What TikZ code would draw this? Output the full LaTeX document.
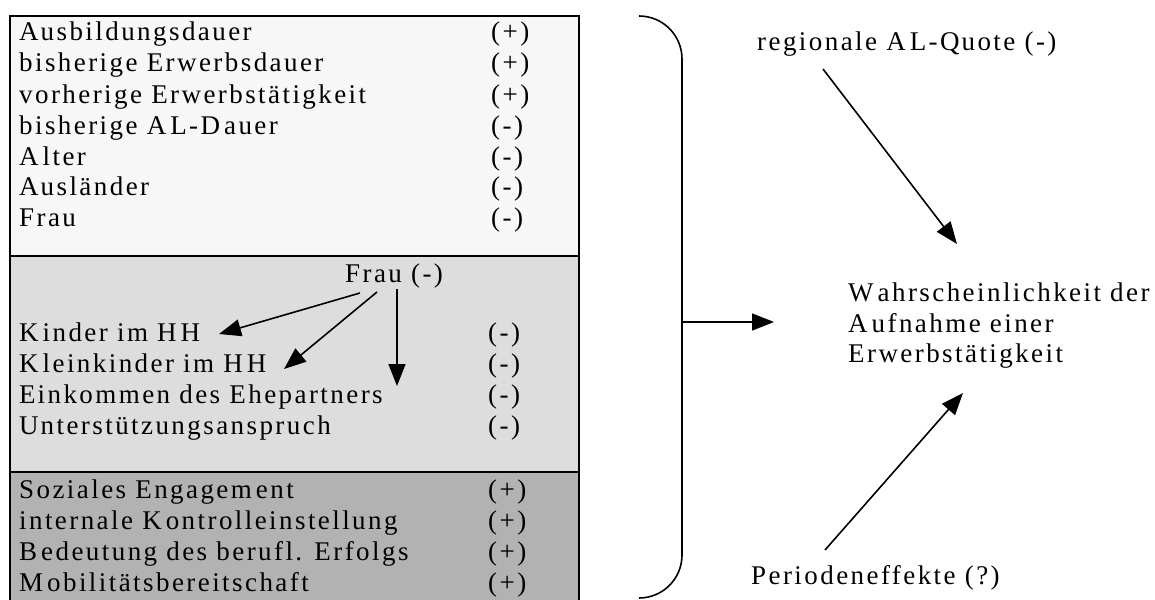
\documentclass[tikz,border=0pt]{standalone}
\usepackage{fontspec}
\setmainfont{Liberation Serif}[LetterSpace=9]
\usetikzlibrary{arrows.meta}
\definecolor{secA}{HTML}{F7F7F7}
\definecolor{secB}{HTML}{DDDDDD}
\definecolor{secC}{HTML}{B2B2B2}
\newcommand{\gp}{\kern4pt}
\begin{document}
\begin{tikzpicture}[x=1pt,y=-1pt,
  lbl/.style={anchor=base west,inner sep=0pt,font=\fontsize{27}{31}\selectfont},
  arr/.style={line width=1.6pt,-{Triangle[length=22pt,width=17pt]}},
  sec/.style={draw=black,line width=1.5pt},
  brace/.style={line width=1.6pt,rounded corners=43pt}]
\useasboundingbox (0,0) rectangle (1155,599);
\fill[white] (0,0) rectangle (1155,599);
% boxes
\draw[sec,fill=secA] (10,16) rectangle (579,256);
\draw[sec,fill=secB] (10,256) rectangle (579,472);
\draw[sec,fill=secC] (10,472) rectangle (579,605);
% section 1
\node[lbl] (a1) at (19,41) {A\kern2pt usbildungsdauer};
\node[lbl] (a2) at (19,72) {bisherige Erwerbsdauer};
\node[lbl] (a3) at (19,103) {vorherige Erwerbstätigkeit};
\node[lbl] (a4) at (19,134) {bisherige A\gp L-D\gp auer};
\node[lbl] (a5) at (19,165) {A\gp lter};
\node[lbl] (a6) at (19,195) {A\kern2pt usländer};
\node[lbl] (a7) at (19,226) {Frau};
\node[lbl] (s1) at (491,41) {(+)};
\node[lbl] (s2) at (491,72) {(+)};
\node[lbl] (s3) at (491,103) {(+)};
\node[lbl] (s4) at (491,134) {(-)};
\node[lbl] (s5) at (491,165) {(-)};
\node[lbl] (s6) at (491,195) {(-)};
\node[lbl] (s7) at (491,226) {(-)};
% section 2
\node[lbl] (frau) at (345,282) {Frau (-)};
\node[lbl] (b1) at (19,341) {K\gp inder im H\gp H};
\node[lbl] (b2) at (19,372) {K\gp leinkinder im H\gp H};
\node[lbl] (b3) at (19,403) {E\kern2pt inkommen des Ehepartners};
\node[lbl] (b4) at (19,434) {U\kern2pt nterstützungsanspruch};
\node[lbl] (t1) at (488,341) {(-)};
\node[lbl] (t2) at (488,372) {(-)};
\node[lbl] (t3) at (488,403) {(-)};
\node[lbl] (t4) at (488,434) {(-)};
\coordinate (k1) at (219,334);
\coordinate (k2) at (284,369);
\coordinate (k3) at (397,386);
\draw[arr] (360,293) -- (k1);
\draw[arr] (377,292) -- (k2);
\draw[arr] (397,289) -- (k3);
% section 3
\node[lbl] (c1) at (19,498) {Soziales Engagem\gp ent};
\node[lbl] (c2) at (19,529) {internale K\gp ontrolleinstellung};
\node[lbl] (c3) at (19,560) {B\gp edeutung des berufl. Erfolgs};
\node[lbl] (c4) at (19,591) {M\gp obilitätsbereitschaft};
\node[lbl] (u1) at (488,498) {(+)};
\node[lbl] (u2) at (488,529) {(+)};
\node[lbl] (u3) at (488,560) {(+)};
\node[lbl] (u4) at (488,591) {(+)};
% brace
\draw[brace] (639,16) -- (682,16) -- (682,598) -- (639,598);
\coordinate (bm) at (682,322);
\coordinate (bt) at (774,322);
\draw[arr] (bm) -- (bt);
% right side
\node[lbl] (reg) at (757,51) {regionale A\gp L-Q\kern2pt uote (-)};
\node[lbl] (w1) at (848,301) {W\gp ahrscheinlichkeit der};
\node[lbl] (w2) at (848,332) {A\gp ufnahme einer};
\node[lbl] (w3) at (848,362) {Erwerbstätigkeit};
\node[lbl] (per) at (751,584) {Periodeneffekte (?)};
\coordinate (rs) at (823,69);
\coordinate (rt) at (957,244);
\coordinate (ps) at (825,550);
\coordinate (pt) at (963,393);
\draw[arr] (rs) -- (rt);
\draw[arr] (ps) -- (pt);
\end{tikzpicture}
\end{document}
